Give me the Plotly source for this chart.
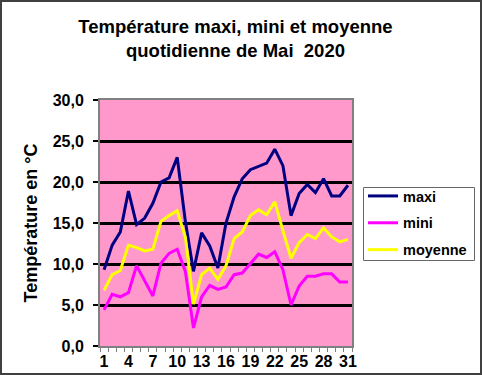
import plotly.graph_objects as go

days = list(range(1, 32))
maxi = [9.3, 12.3, 13.9, 18.9, 14.8, 15.6, 17.4, 20.0, 20.5, 23.0, 15.2, 9.1, 13.8, 12.2, 9.5,
        15.0, 18.2, 20.4, 21.5, 21.9, 22.3, 24.0, 22.0, 15.9, 18.6, 19.7, 18.7, 20.4, 18.3, 18.3, 19.6]
mini = [4.4, 6.3, 6.0, 6.5, 9.8, 8.0, 6.1, 10.1, 11.3, 11.8, 9.1, 2.2, 6.0, 7.4, 6.9,
        7.2, 8.7, 8.9, 10.0, 11.2, 10.8, 11.5, 9.3, 5.0, 7.3, 8.5, 8.5, 8.8, 8.8, 7.8, 7.8]
moyenne = [6.8, 8.7, 9.2, 12.3, 12.0, 11.6, 11.8, 15.2, 15.9, 16.5, 13.3, 5.1, 8.7, 9.5, 8.1,
           9.8, 13.1, 13.9, 15.9, 16.6, 16.0, 17.6, 14.1, 10.7, 12.6, 13.6, 13.1, 14.4, 13.3, 12.7, 13.0]
x_ticks = list(range(1, 32, 3))
y_ticks = [0, 5, 10, 15, 20, 25, 30]

W, H = 482, 375
L, R, T, B = 100, 130, 100, 29
pw, ph = W - L - R, H - T - B

FONT = "Arial, Liberation Sans, sans-serif"

def px_x(v):
    return (v - L) / pw

def px_y(v):
    return (H - B - v) / ph

fig = go.Figure()
for name, vals, color, grp in [("maxi", maxi, "#000080", "a"),
                               ("mini", mini, "#FF00FF", "b"),
                               ("moyenne", moyenne, "#FFFF00", "c")]:
    fig.add_trace(go.Scatter(x=days, y=vals, name=f"<b>{name}</b>", mode="lines", legendgroup=grp,
                             line=dict(color=color, width=3)))

fig.update_layout(
    width=W, height=H,
    margin=dict(l=L, r=R, t=T, b=B, autoexpand=False),
    paper_bgcolor="white", plot_bgcolor="#FF99CC",
    separators=", ",
    font=dict(family=FONT, color="black", size=15),
    title=dict(text="<b>Température maxi, mini et moyenne<br>quotidienne de Mai  2020</b>",
               x=235.5 / W, xanchor="center", y=1 - 33 / H, yanchor="middle",
               font=dict(size=18.5, family=FONT)),
    showlegend=True,
    legend=dict(x=px_x(363), y=px_y(180), xanchor="left", yanchor="top",
                bgcolor="rgba(0,0,0,0)", borderwidth=0,
                font=dict(size=14.5, family=FONT), traceorder="grouped", tracegroupgap=5,
                itemwidth=30),
    xaxis=dict(range=[0.5, 31.5], tickmode="array", tickvals=x_ticks,
               ticktext=[f"<b>{v}</b>" for v in x_ticks], ticks="", showgrid=False, zeroline=False,
               showline=True, linecolor="#808080", linewidth=2, mirror=True,
               tickfont=dict(size=16, family=FONT),
               minor=dict(tick0=0.5, dtick=1, ticks="outside", ticklen=4, tickcolor="#808080",
                          tickwidth=1, showgrid=False)),
    yaxis=dict(range=[0, 30], tickmode="array", tickvals=y_ticks,
               ticktext=[f"<b>{v:.1f}</b>".replace(".", ",") for v in y_ticks],
               ticks="outside", ticklen=5, tickcolor="black", tickwidth=2,
               ticklabelstandoff=6,
               showgrid=True, gridcolor="black", gridwidth=3, zeroline=False,
               showline=True, linecolor="#808080", linewidth=2, mirror=True,
               tickfont=dict(size=16, family=FONT),
               title=dict(text="<b>Température en °C</b>", font=dict(size=18, family=FONT), standoff=10)),
    shapes=[
        dict(type="rect", xref="paper", yref="paper",
             x0=px_x(1), x1=px_x(W - 1), y0=px_y(H - 1), y1=px_y(1),
             line=dict(color="#404040", width=2), fillcolor="rgba(0,0,0,0)", layer="above"),
        dict(type="rect", xref="paper", yref="paper",
             x0=px_x(363.5), x1=px_x(474.5), y0=px_y(260.5), y1=px_y(187.5),
             line=dict(color="#666666", width=1), fillcolor="white", layer="above"),
    ],
)

fig.write_html("out.html", config={"displayModeBar": False},
               post_script="document.body.style.margin='0';document.body.style.overflow='hidden';")
